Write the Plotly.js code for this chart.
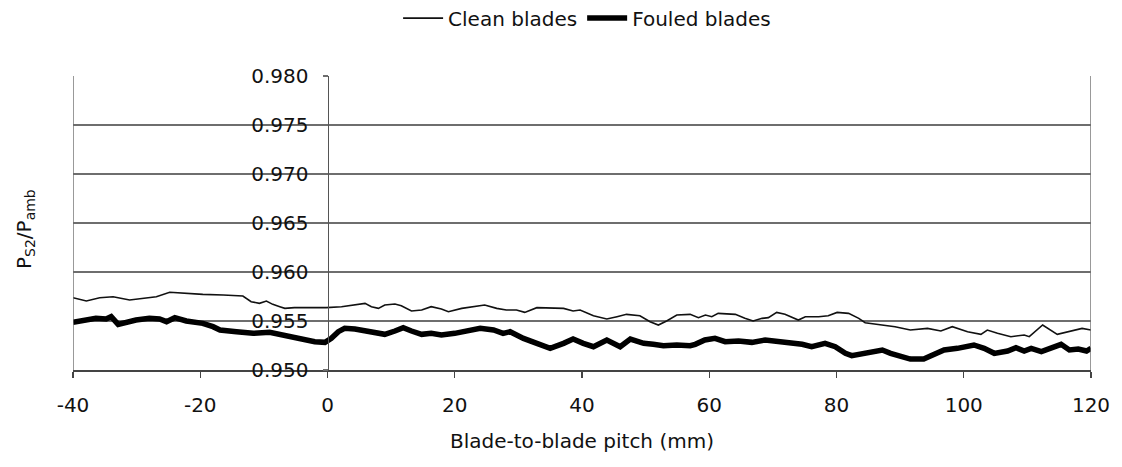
<!DOCTYPE html>
<html>
<head>
<meta charset="utf-8">
<script src="https://cdn.plot.ly/plotly-3.0.1.min.js"></script>
<style>
  html, body { margin: 0; padding: 0; background: #ffffff; }
  #chart { width: 1122px; height: 467px; }
</style>
</head>
<body>
<div id="chart"></div>
<script>
// Static pressure ratio across one blade pitch, clean vs fouled blades
const cleanPitch = [-40, -37.9, -35.8, -33.7, -31.1, -29, -26.9, -24.8, -22.7, -19.6, -16.4, -13.3, -12, -10.7, -9.6, -8.6, -7.5, -6.7, -5.2, -3.1, -0.2, 2.2, 4.3, 5.9, 6.9, 8.0, 9.0, 10.6, 11.6, 13.2, 14.8, 16.3, 17.9, 19.0, 21.1, 23.2, 24.7, 26.6, 28.1, 29.7, 31.0, 32.9, 35.0, 37.1, 38.6, 39.7, 41.8, 43.9, 45.5, 47.0, 49.1, 50.7, 52.0, 53.3, 54.9, 57.0, 58.3, 59.4, 60.4, 61.4, 64.1, 65.6, 66.9, 68.3, 69.3, 70.6, 71.9, 74.0, 75.1, 77.2, 78.7, 80.1, 81.9, 83.5, 84.5, 86.6, 87.7, 89.2, 91.6, 94.3, 96.4, 98.2, 100.6, 102.7, 103.7, 105.3, 107.4, 109.5, 110.3, 112.4, 114.7, 116.8, 118.6, 120];
const cleanRatio = [0.95738, 0.95704, 0.95738, 0.95748, 0.95714, 0.95731, 0.95748, 0.95793, 0.95782, 0.95772, 0.95765, 0.95755, 0.95697, 0.95680, 0.95704, 0.95670, 0.95646, 0.95629, 0.95636, 0.95636, 0.95636, 0.95646, 0.95663, 0.95680, 0.95646, 0.95629, 0.95663, 0.95673, 0.95656, 0.95602, 0.95612, 0.95646, 0.95622, 0.95595, 0.95629, 0.95646, 0.95663, 0.95629, 0.95612, 0.95612, 0.95588, 0.95636, 0.95629, 0.95629, 0.95602, 0.95612, 0.95554, 0.95520, 0.95544, 0.95568, 0.95554, 0.95493, 0.95459, 0.95500, 0.95561, 0.95568, 0.95534, 0.95561, 0.95544, 0.95578, 0.95568, 0.95527, 0.95500, 0.95527, 0.95534, 0.95588, 0.95568, 0.95510, 0.95544, 0.95544, 0.95554, 0.95588, 0.95578, 0.95527, 0.95483, 0.95466, 0.95452, 0.95442, 0.95408, 0.95425, 0.95398, 0.95442, 0.95391, 0.95364, 0.95408, 0.95374, 0.95340, 0.95357, 0.95340, 0.95459, 0.95364, 0.95398, 0.95425, 0.95408];

const fouledPitch = [-40, -38.4, -36.4, -34.8, -34.0, -32.9, -31.6, -30.1, -28, -26.4, -25.3, -24.0, -22.2, -19.6, -18.0, -16.9, -14.3, -11.7, -9.1, -8.3, -6.2, -4.1, -2.0, -0.4, 0.6, 1.7, 2.7, 4.3, 5.9, 7.4, 9.0, 10.6, 11.9, 13.2, 14.8, 16.3, 17.9, 20.0, 22.1, 24.0, 26.1, 27.6, 28.7, 30.8, 32.9, 35.0, 37.1, 38.6, 40.2, 41.8, 43.9, 46.0, 47.6, 49.7, 51.2, 52.8, 54.9, 57.0, 57.8, 59.3, 60.9, 62.5, 64.6, 66.7, 68.8, 70.9, 73.0, 74.6, 76.1, 78.2, 79.8, 81.4, 82.4, 84.0, 85.6, 87.2, 88.5, 90.1, 91.6, 93.7, 95.3, 96.9, 99.0, 101.6, 103.2, 104.8, 106.9, 108.2, 109.5, 110.6, 112.2, 113.7, 115.3, 116.6, 118.0, 119.3, 120];
const fouledRatio = [0.95486, 0.95510, 0.95527, 0.95520, 0.95544, 0.95466, 0.95486, 0.95510, 0.95527, 0.95520, 0.95493, 0.95534, 0.95500, 0.95476, 0.95442, 0.95408, 0.95391, 0.95374, 0.95384, 0.95374, 0.95340, 0.95323, 0.95289, 0.95282, 0.95323, 0.95391, 0.95425, 0.95418, 0.95398, 0.95391, 0.95364, 0.95398, 0.95432, 0.95398, 0.95364, 0.95374, 0.95357, 0.95374, 0.95398, 0.95425, 0.95408, 0.95374, 0.95391, 0.95323, 0.95272, 0.95221, 0.95272, 0.95316, 0.95272, 0.95238, 0.95306, 0.95238, 0.95316, 0.95272, 0.95262, 0.95248, 0.95255, 0.95248, 0.95262, 0.95306, 0.95323, 0.95289, 0.95296, 0.95282, 0.95306, 0.95289, 0.95282, 0.95262, 0.95238, 0.95272, 0.95238, 0.95170, 0.95146, 0.95170, 0.95187, 0.95204, 0.95170, 0.95146, 0.95112, 0.95112, 0.95153, 0.95204, 0.95221, 0.95255, 0.95221, 0.95170, 0.95194, 0.95228, 0.95194, 0.95221, 0.95187, 0.95221, 0.95262, 0.95204, 0.95214, 0.95194, 0.95221];

const seriesNames = ['Clean blades', 'Fouled blades'];
const xTickValues = [-40, -20, 0, 20, 40, 60, 80, 100, 120];
const xTickLabels = ['-40', '-20', '0', '20', '40', '60', '80', '100', '120'];
const yTickValues = [0.950, 0.955, 0.960, 0.965, 0.970, 0.975, 0.980];
const yTickLabels = ['0.950', '0.955', '0.960', '0.965', '0.970', '0.975', '0.980'];
const xTitle = 'Blade-to-blade pitch (mm)';
const yTitle = 'P<sub>S2</sub>/P<sub>amb</sub>';

const FONT = '"DejaVu Sans", "Liberation Sans", Arial, sans-serif';
const GRID = '#6e6e6e';
const INK = '#111111';

const traces = [
  {
    x: cleanPitch, y: cleanRatio, name: seriesNames[0],
    type: 'scatter', mode: 'lines',
    line: { color: INK, width: 1.6 }
  },
  {
    x: fouledPitch, y: fouledRatio, name: seriesNames[1],
    type: 'scatter', mode: 'lines',
    line: { color: '#000000', width: 5.5 }
  }
];

const xMin = xTickValues[0], xMax = xTickValues[xTickValues.length - 1];

const layout = {
  width: 1122, height: 467,
  margin: { l: 73, r: 31, t: 76, b: 97, autoexpand: false },
  paper_bgcolor: '#ffffff', plot_bgcolor: '#ffffff',
  font: { family: FONT, size: 20, color: INK },
  showlegend: true,
  legend: {
    orientation: 'h', x: 0.505, xanchor: 'center', y: 1.197, yanchor: 'middle',
    font: { family: FONT, size: 20, color: INK },
    itemwidth: 40, bgcolor: 'rgba(0,0,0,0)'
  },
  xaxis: {
    range: [xMin, xMax], domain: [0, 1],
    tickmode: 'array', tickvals: xTickValues, ticktext: xTickLabels,
    ticks: 'outside', ticklen: 6, tickwidth: 1.3, tickcolor: '#444444',
    showline: true, linecolor: '#444444', linewidth: 1.5,
    showgrid: false, zeroline: false,
    tickfont: { family: FONT, size: 20, color: INK },
    ticklabelstandoff: 10,
    title: { text: xTitle, font: { family: FONT, size: 20, color: INK }, standoff: 18 }
  },
  yaxis: {
    range: [yTickValues[0], yTickValues[yTickValues.length - 1]],
    anchor: 'free', position: (0 - xMin) / (xMax - xMin), side: 'left',
    tickmode: 'array', tickvals: yTickValues, ticktext: yTickLabels,
    ticks: 'outside', ticklen: 5, tickwidth: 1.3, tickcolor: GRID,
    showline: true, linecolor: '#555555', linewidth: 1.5,
    showgrid: true, gridcolor: GRID, gridwidth: 1.4,
    zeroline: false,
    tickfont: { family: FONT, size: 20, color: INK },
    ticklabelstandoff: 10
  },
  shapes: [
    { type: 'line', xref: 'x', yref: 'paper', x0: xMin, x1: xMin, y0: 0, y1: 1, line: { color: GRID, width: 1.4 } },
    { type: 'line', xref: 'x', yref: 'paper', x0: xMax, x1: xMax, y0: 0, y1: 1, line: { color: GRID, width: 1.4 } }
  ],
  annotations: [
    {
      text: yTitle, xref: 'paper', yref: 'paper', x: -0.047, y: 0.48,
      xanchor: 'center', yanchor: 'middle', textangle: -90, showarrow: false,
      font: { family: FONT, size: 20, color: INK }
    }
  ]
};

Plotly.newPlot('chart', traces, layout, { staticPlot: true, displayModeBar: false });
</script>
</body>
</html>
